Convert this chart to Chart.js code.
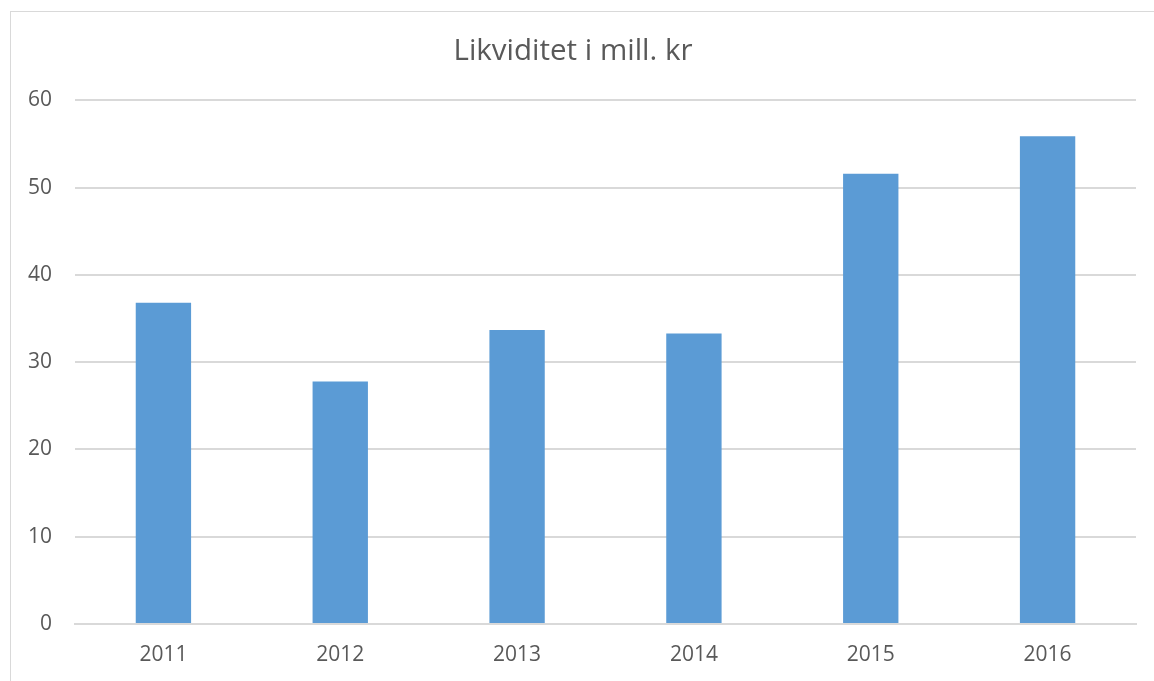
<!DOCTYPE html>
<html>
<head>
<meta charset="utf-8">
<script src="https://cdn.jsdelivr.net/npm/chart.js@4"></script>
<style>
html,body{margin:0;padding:0;background:#fff;overflow:hidden;}
#wrap{position:relative;width:1154px;height:681px;}
#frame{position:absolute;left:10px;top:11px;width:1300px;height:800px;border:1px solid #d9d9d9;box-sizing:border-box;}
canvas{position:absolute;left:0;top:0;}
</style>
</head>
<body>
<div id="wrap">
<div id="frame"></div>
<canvas id="c" width="1154" height="681"></canvas>
</div>
<script>
const categories = ["2011","2012","2013","2014","2015","2016"];
const values = [36.8, 27.8, 33.7, 33.3, 51.6, 55.9];
const yTicks = [0,10,20,30,40,50,60];
const titleText = "Likviditet i mill. kr";

const FONT = "'Open Sans', sans-serif";
const TXT = "#595959";

new Chart(document.getElementById('c'), {
  type: 'bar',
  data: {
    labels: categories,
    datasets: [{
      label: titleText,
      data: values,
      backgroundColor: '#5b9bd5',
      borderWidth: 0,
      categoryPercentage: 1,
      barPercentage: 0.313
    }]
  },
  options: {
    responsive: false,
    animation: false,
    devicePixelRatio: 1,
    layout: { padding: { left: 10, right: 18, top: 11, bottom: 0 } },
    plugins: {
      legend: { display: false },
      tooltip: { enabled: false },
      title: {
        display: true,
        text: titleText,
        color: TXT,
        font: { family: FONT, size: 29.5, weight: 'normal', lineHeight: 1.2 },
        padding: { top: 23, bottom: 31 }
      }
    },
    scales: {
      x: {
        afterFit: (s) => { s.height = 57; },
        grid: { display: false, drawTicks: false },
        border: { display: true, color: '#d9d9d9', width: 2 },
        ticks: { color: TXT, font: { family: FONT, size: 21, lineHeight: 1.2 }, padding: 18 }
      },
      y: {
        min: 0, max: 60,
        afterBuildTicks: (s) => { s.ticks = yTicks.map(v => ({ value: v })); },
        afterFit: (s) => { s.width = 65; },
        grid: { color: '#d9d9d9', lineWidth: 2, drawTicks: false },
        border: { display: false },
        ticks: { color: TXT, font: { family: FONT, size: 21, lineHeight: 1.2 }, padding: 23 }
      }
    }
  }
});
</script>
</body>
</html>
